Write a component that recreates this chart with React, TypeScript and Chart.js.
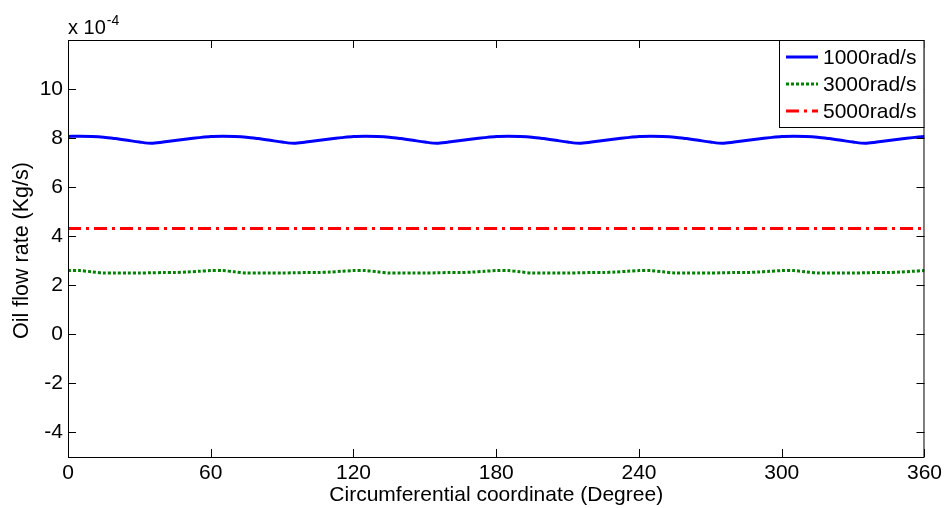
import React, { useEffect, useRef } from "react";
import { Chart, registerables } from "chart.js";

Chart.register(...registerables);

// Angles (degrees)
const angles = [
  0, 5, 10, 15, 20, 25, 30, 35, 40, 45, 50, 55,
  60, 65, 70, 75, 80, 85, 90, 95, 100, 105, 110, 115,
  120, 125, 130, 135, 140, 145, 150, 155, 160, 165, 170, 175,
  180, 185, 190, 195, 200, 205, 210, 215, 220, 225, 230, 235,
  240, 245, 250, 255, 260, 265, 270, 275, 280, 285, 290, 295,
  300, 305, 310, 315, 320, 325, 330, 335, 340, 345, 350, 355,
  360,
];

// Oil flow rate, x 10^-4 Kg/s
const flow1000 = [
  8.07, 8.08, 8.07, 8.04, 7.98, 7.91, 7.84, 7.79, 7.84, 7.90, 7.96, 8.02,
  8.07, 8.08, 8.07, 8.04, 7.98, 7.91, 7.84, 7.79, 7.84, 7.90, 7.96, 8.02,
  8.07, 8.08, 8.07, 8.04, 7.98, 7.91, 7.84, 7.79, 7.84, 7.90, 7.96, 8.02,
  8.07, 8.08, 8.07, 8.04, 7.98, 7.91, 7.84, 7.79, 7.84, 7.90, 7.96, 8.02,
  8.07, 8.08, 8.07, 8.04, 7.98, 7.91, 7.84, 7.79, 7.84, 7.90, 7.96, 8.02,
  8.07, 8.08, 8.07, 8.04, 7.98, 7.91, 7.84, 7.79, 7.84, 7.90, 7.96, 8.02,
  8.07,
];

const flow3000 = [
  2.60, 2.60, 2.55, 2.50, 2.50, 2.50, 2.50, 2.51, 2.52, 2.52, 2.54, 2.57,
  2.60, 2.60, 2.55, 2.50, 2.50, 2.50, 2.50, 2.51, 2.52, 2.52, 2.54, 2.57,
  2.60, 2.60, 2.55, 2.50, 2.50, 2.50, 2.50, 2.51, 2.52, 2.52, 2.54, 2.57,
  2.60, 2.60, 2.55, 2.50, 2.50, 2.50, 2.50, 2.51, 2.52, 2.52, 2.54, 2.57,
  2.60, 2.60, 2.55, 2.50, 2.50, 2.50, 2.50, 2.51, 2.52, 2.52, 2.54, 2.57,
  2.60, 2.60, 2.55, 2.50, 2.50, 2.50, 2.50, 2.51, 2.52, 2.52, 2.54, 2.57,
  2.60,
];

const flow5000Angles = [0, 360];
const flow5000 = [4.32, 4.32];

const xTicks = [0, 60, 120, 180, 240, 300, 360];
const yTicks = [-4, -2, 0, 2, 4, 6, 8, 10];
const xMin = 0;
const xMax = 360;
const yMin = -5;
const yMax = 12;

const seriesLabels = ["1000rad/s", "3000rad/s", "5000rad/s"];
const seriesColors = ["#0000ff", "#008000", "#ff0000"];
const seriesDashes: number[][] = [[], [3, 2], [13, 5, 3, 5]];
const xTitle = "Circumferential coordinate (Degree)";
const yTitle = "Oil flow rate (Kg/s)";
const exponentBase = "x 10";
const exponentPower = "-4";

const FONT = "'Liberation Sans', Arial, Helvetica, sans-serif";

const decorPlugin = {
  id: "matlabDecor",
  afterDraw(chart: any) {
    const { ctx, chartArea, scales } = chart;
    const { left, right, top, bottom } = chartArea;
    ctx.save();
    ctx.strokeStyle = "#000";
    ctx.lineWidth = 1;
    ctx.strokeRect(left + 0.5, top + 0.5, right - left - 1, bottom - top);
    // inward ticks
    const tl = 8;
    ctx.beginPath();
    for (const v of xTicks) {
      const x = Math.round(scales.x.getPixelForValue(v)) + 0.5;
      ctx.moveTo(x, bottom);
      ctx.lineTo(x, bottom - tl);
      ctx.moveTo(x, top);
      ctx.lineTo(x, top + tl);
    }
    for (const v of yTicks) {
      const y = Math.round(scales.y.getPixelForValue(v)) + 0.5;
      ctx.moveTo(left, y);
      ctx.lineTo(left + tl, y);
      ctx.moveTo(right, y);
      ctx.lineTo(right - tl, y);
    }
    ctx.stroke();

    ctx.fillStyle = "#000";
    // x title
    ctx.font = `21px ${FONT}`;
    ctx.textAlign = "center";
    ctx.textBaseline = "middle";
    ctx.fillText(xTitle, (left + right) / 2, 495);
    // y title
    ctx.save();
    ctx.translate(22, (top + bottom) / 2 + 2);
    ctx.rotate(-Math.PI / 2);
    ctx.font = `21.5px ${FONT}`;
    ctx.fillText(yTitle, 0, 0);
    ctx.restore();

    // exponent label
    ctx.textAlign = "left";
    ctx.textBaseline = "alphabetic";
    ctx.font = `20px ${FONT}`;
    ctx.fillText(exponentBase, left, 34);
    const w = ctx.measureText(exponentBase).width;
    ctx.font = `14px ${FONT}`;
    ctx.fillText(exponentPower, left + w + 1, 25);

    // legend
    const lx = 779, ly = top, lw = right - lx, lh = 87;
    ctx.fillStyle = "#fff";
    ctx.fillRect(lx, ly, lw, lh);
    ctx.strokeStyle = "#000";
    ctx.lineWidth = 1;
    ctx.strokeRect(lx + 0.5, ly + 0.5, lw - 1, lh);
    const rows = [57, 84, 111];
    ctx.font = `21px ${FONT}`;
    ctx.textBaseline = "middle";
    seriesLabels.forEach((lab, i) => {
      ctx.save();
      ctx.strokeStyle = seriesColors[i];
      ctx.lineWidth = 3;
      ctx.setLineDash(seriesDashes[i]);
      ctx.beginPath();
      ctx.moveTo(786, rows[i]);
      ctx.lineTo(818, rows[i]);
      ctx.stroke();
      ctx.restore();
      ctx.fillStyle = "#000";
      ctx.fillText(lab, 823, rows[i] + 1);
    });
    ctx.restore();
  },
};

export default function App() {
  const ref = useRef<HTMLCanvasElement | null>(null);
  useEffect(() => {
    if (!ref.current) return;
    Chart.defaults.font.family = FONT;
    const chart = new Chart(ref.current, {
      type: "line",
      data: {
        datasets: [
          {
            label: seriesLabels[0],
            data: angles.map((a, i) => ({ x: a, y: flow1000[i] })),
            borderColor: seriesColors[0],
            borderWidth: 3,
            borderDash: seriesDashes[0],
            pointRadius: 0,
            tension: 0.3,
          },
          {
            label: seriesLabels[1],
            data: angles.map((a, i) => ({ x: a, y: flow3000[i] })),
            borderColor: seriesColors[1],
            borderWidth: 3,
            borderDash: seriesDashes[1],
            pointRadius: 0,
            tension: 0.3,
          },
          {
            label: seriesLabels[2],
            data: flow5000Angles.map((a, i) => ({ x: a, y: flow5000[i] })),
            borderColor: seriesColors[2],
            borderWidth: 3,
            borderDash: seriesDashes[2],
            pointRadius: 0,
          },
        ],
      },
      options: {
        animation: false,
        responsive: true,
        maintainAspectRatio: false,
        layout: { padding: { top: 40, right: 21, left: 0, bottom: 0 } },
        plugins: { legend: { display: false }, tooltip: { enabled: false } },
        scales: {
          x: {
            type: "linear",
            min: xMin,
            max: xMax,
            grid: { display: false, drawTicks: false },
            border: { display: false },
            ticks: { color: "#000", font: { size: 21, family: FONT }, padding: 4, maxRotation: 0 },
            afterBuildTicks: (s: any) => {
              s.ticks = xTicks.map((v) => ({ value: v }));
            },
            afterFit: (s: any) => {
              s.height = 51;
            },
          },
          y: {
            type: "linear",
            min: yMin,
            max: yMax,
            grid: { display: false, drawTicks: false },
            border: { display: false },
            ticks: { color: "#000", font: { size: 21, family: FONT }, padding: 5 },
            afterBuildTicks: (s: any) => {
              s.ticks = yTicks.map((v) => ({ value: v }));
            },
            afterFit: (s: any) => {
              s.width = 68;
            },
          },
        },
      },
      plugins: [decorPlugin],
    });
    return () => chart.destroy();
  }, []);
  return (
    <div style={{ position: "fixed", left: 0, top: 0, width: 946, height: 508, background: "#fff" }}>
      <canvas ref={ref} />
    </div>
  );
}
